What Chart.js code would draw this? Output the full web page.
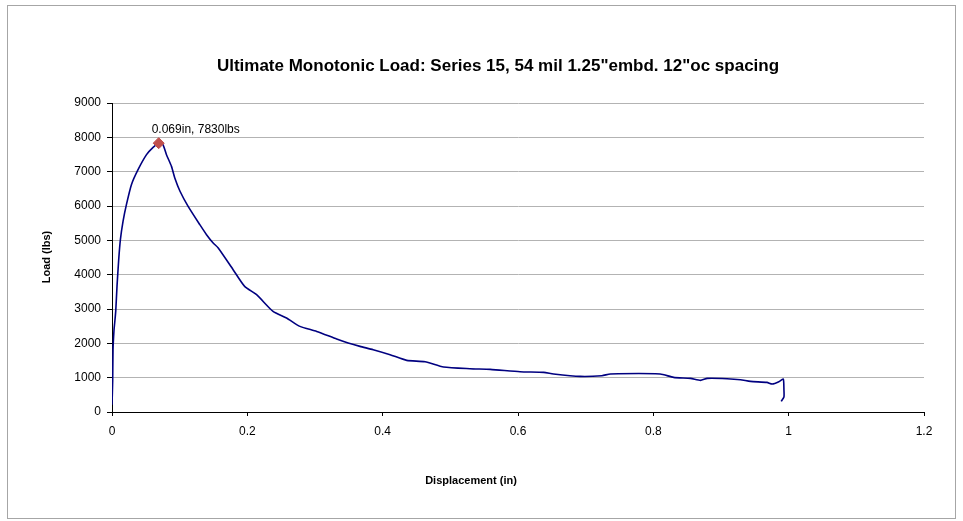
<!DOCTYPE html>
<html>
<head>
<meta charset="utf-8">
<script src="https://cdn.jsdelivr.net/npm/chart.js@4"></script>
<style>
  body { margin: 0; background: #fff; }
  #loadChart { display: block; }
</style>
</head>
<body>
<canvas id="loadChart" width="963" height="521"></canvas>
<script>
var chartTitle = 'Ultimate Monotonic Load: Series 15, 54 mil 1.25"embd. 12"oc spacing';
var xAxisTitle = "Displacement (in)";
var yAxisTitle = "Load (lbs)";

var xTicks = [0, 0.2, 0.4, 0.6, 0.8, 1, 1.2];
var yTicks = [0, 1000, 2000, 3000, 4000, 5000, 6000, 7000, 8000, 9000];

// load-displacement trace
var displacement = [
  0, 0.001, 0.0015, 0.003, 0.004, 0.0055, 0.0074, 0.0099, 0.0124, 0.0163,
  0.0213, 0.0287, 0.0385, 0.051, 0.0607, 0.069, 0.075, 0.0805, 0.0879, 0.0928,
  0.1005, 0.1125, 0.1298, 0.1397, 0.1495, 0.157, 0.179, 0.196, 0.2137, 0.238,
  0.258, 0.2777, 0.3025, 0.332, 0.349, 0.3665, 0.386, 0.411, 0.4356, 0.4627,
  0.49, 0.529, 0.559, 0.603, 0.638, 0.6525, 0.692, 0.724, 0.7365, 0.81,
  0.83, 0.855, 0.8697, 0.8796, 0.909, 0.9287, 0.9436, 0.968, 0.9757, 0.9855,
  0.992, 0.993, 0.993, 0.989
];
var load = [
  210, 900, 1815, 2400, 2600, 2930, 3659, 4436, 5019, 5552,
  6039, 6621, 7058, 7495, 7708, 7830, 7800, 7495, 7154, 6816,
  6430, 5989, 5456, 5165, 4923, 4777, 4145, 3659, 3417, 2930,
  2738, 2494, 2348, 2126, 2010, 1911, 1815, 1669, 1503, 1465,
  1311, 1261, 1241, 1174, 1154, 1107, 1037, 1057, 1107, 1107,
  1008, 979, 920, 979, 970, 941, 891, 862, 815, 883,
  961, 650, 437, 309
];

// ultimate load marker
var peakDisplacement = [0.069];
var peakLoad = [7830];

var tracePoints = displacement.map(function (d, i) {
  return { x: d, y: load[i] };
});
var peakPoints = peakDisplacement.map(function (d, i) {
  return { x: d, y: peakLoad[i] };
});

var frameAndText = {
  id: "frameAndText",
  beforeDraw: function (chart) {
    var ctx = chart.ctx;
    ctx.save();
    ctx.fillStyle = "#fff";
    ctx.fillRect(0, 0, chart.width, chart.height);
    ctx.strokeStyle = "#a6a6a6";
    ctx.lineWidth = 1;
    ctx.strokeRect(7.5, 5.5, 948, 513);
    ctx.restore();
  },
  afterDraw: function (chart) {
    var ctx = chart.ctx;
    ctx.save();
    ctx.fillStyle = "#000";
    ctx.textAlign = "center";
    ctx.textBaseline = "middle";

    ctx.font = "bold 17px 'Liberation Sans', Arial, sans-serif";
    ctx.fillText(chartTitle, 498, 66);

    ctx.font = "bold 11px 'Liberation Sans', Arial, sans-serif";
    ctx.fillText(xAxisTitle, 471, 481);

    ctx.translate(47, 257);
    ctx.rotate(-Math.PI / 2);
    ctx.fillText(yAxisTitle, 0, 0);
    ctx.restore();

    // value label beside the peak marker
    var meta = chart.getDatasetMeta(1);
    ctx.save();
    ctx.font = "12px 'Liberation Sans', Arial, sans-serif";
    ctx.fillStyle = "#000";
    ctx.textAlign = "left";
    ctx.textBaseline = "middle";
    meta.data.forEach(function (pt, i) {
      var text = peakDisplacement[i] + "in, " + peakLoad[i] + "lbs";
      ctx.fillText(text, pt.x - 7, pt.y - 13);
    });
    ctx.restore();
  }
};

var ctx = document.getElementById("loadChart").getContext("2d");

new Chart(ctx, {
  type: "scatter",
  data: {
    datasets: [
      {
        label: "Load",
        data: tracePoints,
        showLine: true,
        borderColor: "#000080",
        borderWidth: 1.6,
        pointRadius: 0,
        tension: 0.2,
        order: 2
      },
      {
        label: "Ultimate",
        data: peakPoints,
        pointStyle: "rectRot",
        pointRadius: 5.5,
        backgroundColor: "#c0504d",
        borderColor: "#c0504d",
        order: 1
      }
    ]
  },
  options: {
    responsive: false,
    devicePixelRatio: 1,
    animation: false,
    layout: {
      padding: { left: 0, right: 39, top: 103, bottom: 0 }
    },
    plugins: {
      legend: { display: false },
      tooltip: { enabled: false },
      title: { display: false }
    },
    scales: {
      x: {
        type: "linear",
        min: 0,
        max: 1.2,
        afterBuildTicks: function (scale) {
          scale.ticks = xTicks.map(function (v) { return { value: v }; });
        },
        afterFit: function (scale) {
          scale.height = 109;
        },
        border: { color: "#000", width: 1 },
        grid: {
          drawOnChartArea: false,
          drawTicks: true,
          tickLength: 4,
          tickColor: "#000"
        },
        ticks: {
          color: "#000",
          padding: 8,
          font: { family: "'Liberation Sans', Arial, sans-serif", size: 12 },
          callback: function (v) { return String(v); }
        }
      },
      y: {
        type: "linear",
        min: 0,
        max: 9000,
        afterBuildTicks: function (scale) {
          scale.ticks = yTicks.map(function (v) { return { value: v }; });
        },
        afterFit: function (scale) {
          scale.width = 112;
        },
        border: { color: "#000", width: 1 },
        grid: {
          color: "#b3b3b3",
          lineWidth: 1,
          drawTicks: true,
          tickLength: 5,
          tickColor: "#000"
        },
        ticks: {
          color: "#000",
          padding: 6,
          font: { family: "'Liberation Sans', Arial, sans-serif", size: 12 },
          callback: function (v) { return String(v); }
        }
      }
    }
  },
  plugins: [frameAndText]
});
</script>
</body>
</html>
